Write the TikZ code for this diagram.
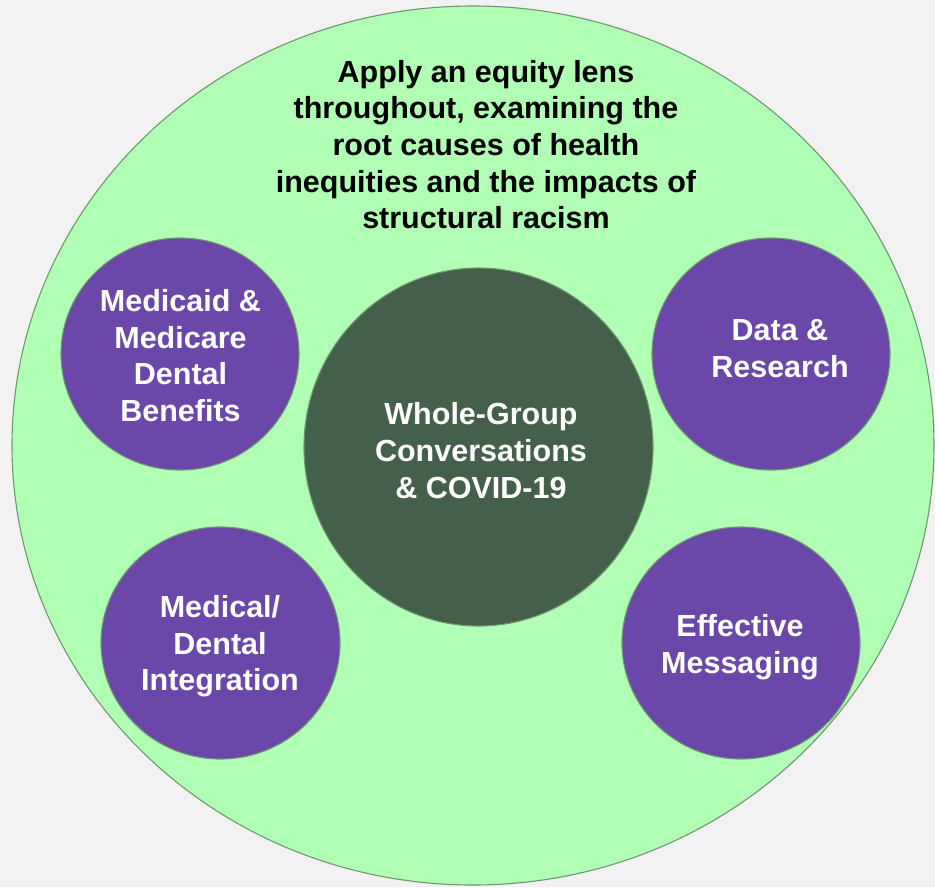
\documentclass[tikz,border=0pt]{standalone}
\usepackage{fontspec}
\setmainfont{Liberation Sans}
\usetikzlibrary{shapes.geometric}
\definecolor{bgc}{RGB}{242,242,242}
\definecolor{lgreen}{RGB}{176,255,181}
\definecolor{edgec}{RGB}{112,150,112}
\definecolor{purp}{RGB}{107,71,170}
\definecolor{dgreen}{RGB}{69,96,74}
\begin{document}
\begin{tikzpicture}[x=1pt,y=-1pt,
  blob/.style={ellipse, draw=edgec, line width=1.1pt, inner sep=0pt},
  lbl/.style={font=\fontsize{30.5}{36.6}\selectfont\bfseries, align=center, text=white, inner sep=0pt}]
\useasboundingbox (0,0) rectangle (935,887);
\fill[bgc] (0,0) rectangle (935,887);
\node[blob, fill=lgreen, minimum width=922pt, minimum height=879pt] (outer) at (473,445.5) {};
\node[lbl, text=black] (title) at (486,144.5) {Apply an equity lens\\throughout, examining the\\root causes of health\\inequities and the impacts of\\structural racism};
\node[blob, fill=purp, minimum width=238pt, minimum height=232pt] (medicaid) at (180,354) {};
\node[blob, fill=purp, minimum width=238pt, minimum height=232pt] (data) at (771,354) {};
\node[blob, fill=dgreen, minimum width=349pt, minimum height=358pt] (whole) at (478.5,447) {};
\node[blob, fill=purp, minimum width=239pt, minimum height=232pt] (medical) at (220.5,643) {};
\node[blob, fill=purp, minimum width=238pt, minimum height=232pt] (effective) at (741,643) {};
\node[lbl] (medicaidt) at (180.5,355.5) {Medicaid \&\\Medicare\\Dental\\Benefits};
\node[lbl] (datat) at (780,348.5) {Data \&\\Research};
\node[lbl] (wholet) at (481,450.5) {Whole-Group\\Conversations\\\& COVID-19};
\node[lbl] (medicalt) at (220,646.5) {Medical/\\Dental\\Integration};
\node[lbl] (effectivet) at (740,647) {Effective\\Messaging};
\end{tikzpicture}
\end{document}
